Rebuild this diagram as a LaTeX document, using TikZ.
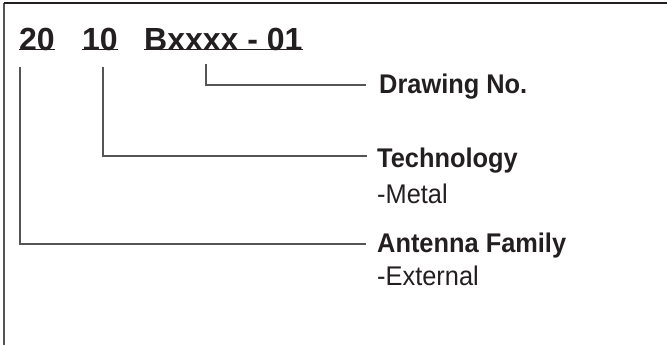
\documentclass[tikz,border=0pt]{standalone}
\usepackage{fontspec}
\setmainfont{Liberation Sans}
\newfontfamily\narrowsans[FakeStretch=0.94]{Liberation Sans}
\definecolor{ink}{HTML}{231F20}
\definecolor{wire}{HTML}{555555}
\begin{document}
\begin{tikzpicture}[x=1pt,y=-1pt,
  titletxt/.style={anchor=base west,inner sep=0pt,text=ink,font=\fontsize{32}{38}\selectfont\bfseries},
  headtxt/.style={anchor=base west,inner sep=0pt,text=ink,font=\narrowsans\fontsize{27}{32}\selectfont\bfseries},
  subtxt/.style={anchor=base west,inner sep=0pt,text=ink,font=\narrowsans\fontsize{27}{32}\selectfont},
  uline/.style={draw=ink,line width=1.6pt},
  wireline/.style={draw=wire,line width=1.4pt},
  frameline/.style={draw=ink,line width=1.6pt}]
\useasboundingbox (0,0) rectangle (667,345);
% frame
\coordinate (f1) at (4,345);
\coordinate (f2) at (4,3);
\coordinate (f3) at (667,3);
\draw[frameline,draw=wire] (f1) -- (f2);
\draw[frameline] (f2) -- (f3);
% title parts
\node[titletxt] (t20) at (19,51) {20};
\node[titletxt] (t10) at (82,51) {10\ };
\node[titletxt] (tB) at (144,51) {Bxxxx - 01};
\draw[uline] ([yshift=1.5pt]t20.base west) -- ([yshift=1.5pt]t20.base east);
\draw[uline] ([yshift=1.5pt]t10.base west) -- ([yshift=1.5pt]t10.base east);
\draw[uline] ([yshift=1.5pt]tB.base west) -- ([yshift=1.5pt]tB.base east);
% labels
\node[headtxt] (dn) at (379,93) {Drawing No.};
\node[headtxt] (tech) at (377,167) {Technology};
\node[subtxt] (metal) at (377,203) {-Metal};
\node[headtxt] (ant) at (377,252) {Antenna Family};
\node[subtxt] (ext) at (377,285) {-External};
% connector ends
\coordinate (s1) at (206,64);
\coordinate (e1) at (366,85);
\coordinate (s2) at (103,67);
\coordinate (e2) at (367,156);
\coordinate (s3) at (20,67);
\coordinate (e3) at (366,244);
\draw[wireline] (s1) |- (e1);
\draw[wireline] (s2) |- (e2);
\draw[wireline] (s3) |- (e3);
\end{tikzpicture}
\end{document}
